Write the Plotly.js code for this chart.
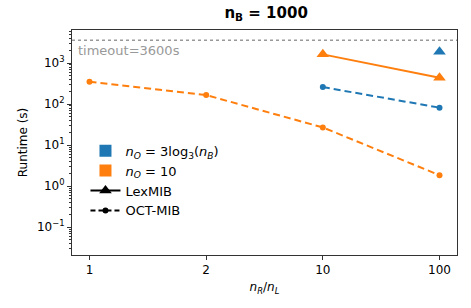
<!DOCTYPE html>
<html><head><meta charset="utf-8">
<script src="https://cdn.plot.ly/plotly-3.0.1.min.js"></script>
<style>html,body{margin:0;padding:0;background:#fff}#chart{width:471px;height:308px}</style>
</head><body><div id="chart"></div>
<script>
const categories = ['1', '2', '10', '100'];
const octMib_nO10 = [350, 166, 27, 1.85];
const lexMib_nO10 = [null, null, 1630, 437];
const octMib_nOlog = [null, null, 260, 82];
const lexMib_nOlog = [null, null, null, 1890];
const timeoutSec = 3600;
const yTickVals = [0.1, 1, 10, 100, 1000];
const yTickText = ['10<sup>−1</sup>', '10<sup>0</sup>', '10<sup>1</sup>', '10<sup>2</sup>', '10<sup>3</sup>'];

const minorVals = [];
[0.01, 0.1, 1, 10, 100, 1000].forEach(d => { for (let k = 2; k <= 9; k++) minorVals.push(d * k); });

const BLUE = '#1f77b4', ORANGE = '#ff7f0e';
const font = {family: 'DejaVu Sans, sans-serif', size: 12, color: '#000'};

const traces = [
  {x: categories, y: octMib_nO10, mode: 'lines+markers', line: {color: ORANGE, width: 2, dash: '7px,4px'}, marker: {color: ORANGE, size: 6, symbol: 'circle'}, showlegend: false},
  {x: categories, y: lexMib_nO10, mode: 'lines+markers', line: {color: ORANGE, width: 2}, marker: {color: ORANGE, size: 11, symbol: 'triangle-up'}, showlegend: false},
  {x: categories, y: octMib_nOlog, mode: 'lines+markers', line: {color: BLUE, width: 2, dash: '7px,4px'}, marker: {color: BLUE, size: 6, symbol: 'circle'}, showlegend: false},
  {x: categories, y: lexMib_nOlog, mode: 'lines+markers', line: {color: BLUE, width: 2}, marker: {color: BLUE, size: 11, symbol: 'triangle-up'}, showlegend: false},
  {x: [null], y: [null], mode: 'markers', marker: {color: BLUE, size: 12, symbol: 'square'}, name: '<i>n</i><sub><i>O</i></sub> = 3log<sub>3</sub>(<i>n</i><sub><i>B</i></sub>)'},
  {x: [null], y: [null], mode: 'markers', marker: {color: ORANGE, size: 12, symbol: 'square'}, name: '<i>n</i><sub><i>O</i></sub> = 10'},
  {x: [null], y: [null], mode: 'lines+markers', line: {color: '#000', width: 2}, marker: {color: '#000', size: 11, symbol: 'triangle-up'}, name: 'LexMIB'},
  {x: [null], y: [null], mode: 'lines+markers', line: {color: '#000', width: 2, dash: '5px,3px'}, marker: {color: '#000', size: 6, symbol: 'circle'}, name: 'OCT-MIB'}
];

const layout = {
  width: 471, height: 308,
  margin: {l: 72, r: 14, t: 30, b: 53},
  paper_bgcolor: '#fff', plot_bgcolor: '#fff',
  font: font,
  title: {text: '<b>n<sub>B</sub> = 1000</b>', font: {family: 'DejaVu Sans, sans-serif', size: 15}, x: 0.565, xanchor: 'center', y: 0.975, yanchor: 'top'},
  xaxis: {
    type: 'category', categoryorder: 'array', categoryarray: categories,
    range: [-0.15, 3.15],
    showline: true, linecolor: '#333', linewidth: 1, mirror: true,
    ticks: 'outside', ticklen: 4, tickcolor: '#333', showgrid: false, zeroline: false,
    title: {text: '<i>n</i><sub><i>R</i></sub>/<i>n</i><sub><i>L</i></sub>', font: {size: 12}, standoff: 6},
    tickfont: {size: 12}
  },
  yaxis: {
    type: 'log', range: [Math.log10(0.021), Math.log10(6400)],
    tickmode: 'array', tickvals: yTickVals, ticktext: yTickText,
    showline: true, linecolor: '#333', linewidth: 1, mirror: true,
    ticks: 'outside', ticklen: 4, tickcolor: '#333', showgrid: false, zeroline: false,
    minor: {tickmode: 'array', tickvals: minorVals, ticks: 'outside', ticklen: 2, tickcolor: '#333', showgrid: false},
    title: {text: 'Runtime (s)', font: {size: 12}, standoff: 6},
    tickfont: {size: 12}
  },
  shapes: [{type: 'line', xref: 'paper', x0: 0, x1: 1, yref: 'y', y0: timeoutSec, y1: timeoutSec, line: {color: '#999', width: 1.5, dash: 'dot'}}],
  annotations: [{xref: 'paper', x: 0.01, xanchor: 'left', yref: 'y', y: Math.log10(timeoutSec), yanchor: 'top', yshift: -1, text: 'timeout=' + timeoutSec + 's', showarrow: false, font: {size: 13, color: '#999'}}],
  legend: {x: 0.035, xanchor: 'left', y: 0.53, yanchor: 'top', bgcolor: 'rgba(0,0,0,0)', font: {size: 13}, itemwidth: 30, tracegroupgap: 0}
};

Plotly.newPlot('chart', traces, layout, {displayModeBar: false, staticPlot: true});
</script></body></html>
